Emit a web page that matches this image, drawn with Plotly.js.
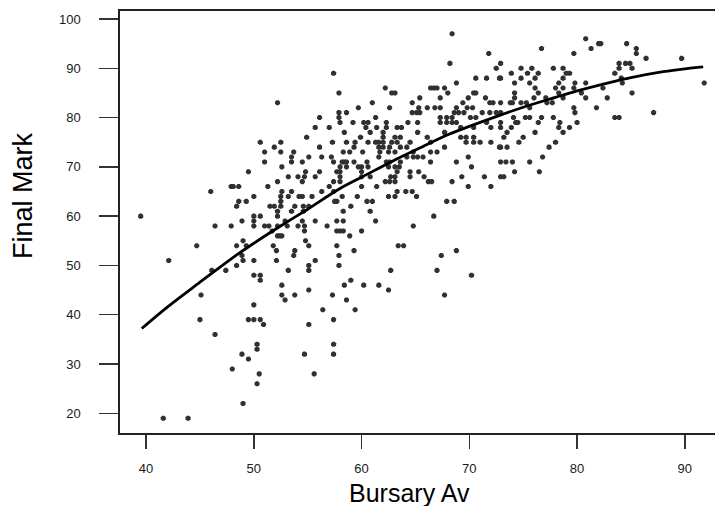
<!DOCTYPE html>
<html><head><meta charset="utf-8">
<script src="https://cdn.plot.ly/plotly-3.0.1.min.js"></script>
<style>html,body{margin:0;padding:0;background:#fff;}#chart{width:715px;height:506px;}</style>
</head><body><div id="chart"></div>
<script>
// Bursary average (x) and final mark (y)
var bursaryAv = [
52.2,55.7,50.6,52.5,54.9,51.9,51.0,52.5,53.7,51.0,53.5,53.5,54.5,55.1,52.6,49.5,54.8,53.2,54.1,54.7,
52.2,54.5,47.9,48.1,48.6,46.0,51.3,52.6,53.5,50.0,52.5,53.2,54.2,54.5,55.4,48.6,49.3,48.4,52.5,51.5,
51.9,52.5,53.8,54.6,55.1,52.2,53.5,54.6,39.5,50.0,50.6,52.2,
46.4,47.9,48.9,50.0,50.0,51.0,51.4,52.2,53.1,52.9,54.1,54.7,54.7,54.5,55.7,49.0,48.4,49.3,44.7,42.1,
48.9,49.0,48.4,50.0,51.8,52.1,52.2,52.4,52.6,51.7,53.8,53.7,52.1,54.8,55.1,55.7,53.2,55.1,55.1,46.1,
47.4,50.0,50.6,50.6,52.6,52.6,52.9,53.8,55.1,45.1,45.0,46.4,49.5,50.0,50.6,50.9,50.0,55.1,50.3,50.3,
48.9,49.5,54.7,48.0,50.5,50.3,55.6,49.0,41.6,43.9,
57.7,58.3,61.3,56.8,57.7,58.0,58.3,60.0,58.9,64.8,57.7,59.3,63.4,63.9,57.9,57.9,62.7,67.4,68.8,67.0,
70.2,59.0,58.4,60.2,61.6,62.5,57.3,58.6,67.7,56.4,59.4,57.4,57.4,57.4,
68.4,71.8,68.2,57.4,72.5,70.6,71.6,72.8,68.8,57.9,62.2,62.8,63.1,66.4,66.7,67.0,67.7,68.0,70.4,70.6,
67.3,69.9,71.5,65.4,61.0,64.7,69.4,71.9,72.2,59.7,62.6,65.3,66.1,66.8,67.3,68.8,69.8,70.3,64.7,65.1,
65.4,68.6,69.0,69.5,71.2,71.9,72.5,56.1,57.9,58.6,57.9,61.3,67.3,67.9,68.4,70.1,70.6,59.2,60.2,60.6,
62.3,64.3,65.2,67.3,67.9,68.4,68.8,71.6,57.0,58.0,60.4,61.4,62.3,63.3,63.7,69.2,70.4,72.0,58.4,60.8,
62.0,65.2,67.7,59.9,62.0,63.1,63.6,66.1,69.2,69.7,70.4,57.3,58.6,59.4,60.6,61.3,61.6,62.0,62.8,63.3,
64.5,66.4,69.7,70.4,71.0,72.0,56.1,59.3,61.6,62.0,62.6,63.6,64.2,67.7,58.3,58.9,60.1,61.7,62.5,63.1,
64.8,66.4,67.0,72.8,56.3,57.2,58.2,58.4,58.6,57.4,59.3,60.5,61.6,62.3,62.6,63.6,64.2,64.8,65.2,65.7,
66.4,68.8,69.9,58.0,58.6,59.7,60.0,60.6,62.5,63.1,63.5,70.2,56.1,57.7,58.0,60.0,63.3,64.5,65.3,55.7,
58.0,60.0,60.8,62.7,63.1,64.5,65.8,69.3,71.4,57.4,58.0,61.4,62.2,62.6,63.1,66.2,66.5,68.4,57.0,60.0,
69.9,72.0,56.3,57.4,63.3,64.1,64.7,58.2,59.6,62.5,63.1,65.1,57.5,57.7,59.0,60.5,61.0,58.3,60.8,67.9,
68.6,66.7,
80.8,76.7,81.3,82.0,82.2,84.6,85.5,85.5,86.4,89.7,79.7,72.9,83.9,84.5,84.9,83.9,85.1,74.8,75.8,77.8,
78.7,83.5,73.9,75.4,76.4,79.0,79.3,72.9,74.8,76.1,78.7,84.1,74.2,75.6,78.3,79.8,80.8,84.2,91.8,76.1,
78.0,78.7,79.7,82.4,74.2,76.4,78.3,80.4,85.1,74.2,76.0,77.1,78.7,80.8,82.8,72.9,73.8,74.0,74.8,75.3,
77.2,77.7,75.6,79.7,81.8,72.9,79.8,87.1,74.1,75.2,75.6,76.7,77.8,83.5,83.9,72.9,74.3,74.5,76.4,78.4,
80.0,72.9,73.9,78.3,79.3,73.5,76.1,78.7,73.2,75.0,74.6,78.0,72.9,73.5,77.4,76.8,72.9,73.4,74.0,75.6,
74.2,76.5,72.9,73.2
];
var finalMark = [
83,78,75,75,76,74,73,73,73,71,72,71,71,72,70,69,69,68,68,68,
67,67,66,66,66,65,66,65,65,64,64,64,64,64,64,63,63,62,63,62,
62,62,62,62,62,61,61,61,60,60,60,60,
58,58,59,59,58,58,58,58,58,59,58,58,57,59,59,55,54,54,54,51,
52,51,50,51,54,53,56,56,56,57,53,52,51,55,54,51,49,50,49,49,
49,48,48,47,46,44,43,44,45,44,39,36,39,39,39,38,42,38,34,33,
32,31,32,29,28,26,28,22,19,19,
59,59,59,58,57,57,57,57,56,58,54,53,54,54,52,50,49,52,53,49,
48,47,46,46,46,45,44,43,44,41,41,39,34,32,
97,93,91,89,90,88,88,88,87,85,86,85,85,86,86,86,86,85,85,85,
84,84,84,84,83,83,83,83,83,82,82,82,82,82,82,82,82,82,81,81,
81,81,81,81,81,81,81,80,81,81,80,80,80,80,80,80,80,79,79,79,
79,79,79,79,79,79,79,79,78,79,78,78,78,78,78,78,78,78,77,77,
77,77,77,76,76,76,76,76,76,76,76,75,75,75,75,75,75,75,75,75,
75,75,75,75,75,75,74,74,74,74,74,74,74,74,73,73,73,73,73,73,
73,73,73,74,72,72,71,71,71,71,71,71,72,71,71,71,72,72,72,72,
71,71,72,70,70,70,70,70,70,70,70,70,69,69,69,69,69,69,69,68,
68,68,68,68,68,68,68,68,68,67,67,66,67,67,67,67,67,67,66,66,
66,66,65,65,65,65,65,64,64,64,64,64,63,63,62,63,63,61,61,63,
63,60,
96,94,94,95,95,95,94,93,92,92,93,91,91,91,91,90,90,90,90,90,
90,89,89,89,89,89,89,88,88,88,88,88,87,87,87,87,87,87,87,86,
86,86,86,86,85,85,85,85,85,84,84,84,84,84,84,83,83,83,83,83,
83,83,82,82,82,81,81,81,80,80,80,80,80,80,80,79,79,79,79,79,
79,78,78,78,78,77,77,77,76,76,75,75,74,74,74,72,71,71,71,71,
69,69,68,68
];
// fitted curve
var curveX = [39.6, 42, 45, 48, 50, 53, 55, 58, 60, 63, 65, 68, 70, 73, 75, 78, 80, 83, 85, 88, 90, 91.7];
var curveY = [37.2, 41.6, 46.6, 51.5, 54.5, 58.7, 61.4, 65.6, 67.9, 71.3, 73.4, 76.5, 78.2, 80.6, 82.1, 84.1, 85.4, 87.1, 88.1, 89.3, 89.9, 90.3];

var xTitle = 'Bursary Av';
var yTitle = 'Final Mark';

var traces = [
  {x: bursaryAv, y: finalMark, type: 'scatter', mode: 'markers',
   marker: {symbol: 'octagon', size: 5.5, color: '#303030', line: {width: 0}}},
  {x: curveX, y: curveY, type: 'scatter', mode: 'lines',
   line: {color: '#000000', width: 2.8, shape: 'spline', smoothing: 1}}
];
var fam = 'Arial, "Liberation Sans", sans-serif';
var axisFont = {family: fam, size: 13, color: '#1a1a1a'};
var layout = {
  width: 715, height: 506,
  margin: {l: 120, r: 0, t: 11, b: 73, pad: 0},
  paper_bgcolor: '#fff', plot_bgcolor: '#fff',
  showlegend: false,
  xaxis: {range: [37.58, 92.8], tickvals: [40,50,60,70,80,90], ticktext: ['40','50','60','70','80','90'],
    showgrid: false, zeroline: false, showline: true, mirror: true, linecolor: '#222', linewidth: 1.6,
    ticks: 'outside', ticklen: 14, tickwidth: 1.4, tickcolor: '#333', tickfont: axisFont, ticklabelstandoff: 9},
  yaxis: {range: [16.0, 101.62], tickvals: [20,30,40,50,60,70,80,90,100],
    ticktext: ['20','30','40','50','60','70','80','90','100'],
    showgrid: false, zeroline: false, showline: true, mirror: false, linecolor: '#222', linewidth: 1.6,
    ticks: 'outside', ticklen: 19, tickwidth: 1.4, tickcolor: '#333', tickfont: axisFont, ticklabelstandoff: 16},
  annotations: [
    {text: xTitle, xref: 'paper', yref: 'paper', x: 0.487, y: -0.142, xanchor: 'center', yanchor: 'middle',
     showarrow: false, font: {family: fam, size: 25, color: '#000'}},
    {text: yTitle, xref: 'paper', yref: 'paper', x: -0.163, y: 0.5616, xanchor: 'center', yanchor: 'middle',
     textangle: -90, showarrow: false, font: {family: fam, size: 27, color: '#000'}}
  ]
};
Plotly.newPlot('chart', traces, layout, {staticPlot: true, displayModeBar: false});
</script></body></html>
